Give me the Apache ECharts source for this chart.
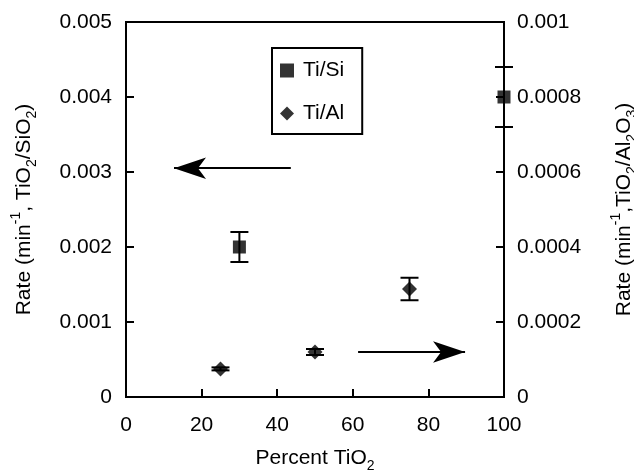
<!DOCTYPE html>
<html>
<head>
<meta charset="utf-8">
<script src="https://cdn.jsdelivr.net/npm/echarts@6/dist/echarts.min.js"></script>
<style>
  html, body { margin: 0; padding: 0; background: #fff; }
  #chart { width: 634px; height: 470px; }
</style>
</head>
<body>
<div id="chart"></div>
<script>
// Ti/Si samples (left axis, min^-1 per TiO2/SiO2)
const siPercent = [30, 100];
const siRate = [0.002, 0.004];
const siErr = [0.0002, 0.0004];

// Ti/Al samples (right axis, min^-1 per TiO2/Al2O3)
const alPercent = [25, 50, 75];
const alRate = [0.000075, 0.00012, 0.000288];
const alErr = [0.000004, 0.000008, 0.00003];

// Tick labels
const xTicks = ['0', '20', '40', '60', '80', '100'];
const leftTicks = ['0', '0.001', '0.002', '0.003', '0.004', '0.005'];
const rightTicks = ['0', '0.0002', '0.0004', '0.0006', '0.0008', '0.001'];

const FONT = 'Liberation Sans, Arial, sans-serif';
const INK = '#000';

function errorBarSeries(name, xs, ys, errs, yAxisIndex) {
  return {
    name: name + ' error',
    type: 'custom',
    yAxisIndex: yAxisIndex,
    silent: true,
    z: 3,
    data: xs.map((x, i) => [x, ys[i] - errs[i], ys[i] + errs[i]]),
    renderItem: function (params, api) {
      const lo = api.coord([api.value(0), api.value(1)]);
      const hi = api.coord([api.value(0), api.value(2)]);
      const half = 9;
      const style = { stroke: INK, lineWidth: 2 };
      return {
        type: 'group',
        children: [
          { type: 'line', shape: { x1: lo[0], y1: lo[1], x2: hi[0], y2: hi[1] }, style: style },
          { type: 'line', shape: { x1: lo[0] - half, y1: lo[1], x2: lo[0] + half, y2: lo[1] }, style: style },
          { type: 'line', shape: { x1: hi[0] - half, y1: hi[1], x2: hi[0] + half, y2: hi[1] }, style: style }
        ]
      };
    }
  };
}

const chart = echarts.init(document.getElementById('chart'), null, { renderer: 'canvas' });

const nameRich = {
  n: { fontFamily: FONT, fontSize: 21, color: INK, lineHeight: 30, verticalAlign: 'middle' },
  sup: { fontFamily: FONT, fontSize: 14, color: INK, verticalAlign: 'top', padding: [0, 0, 8, 0] },
  sub: { fontFamily: FONT, fontSize: 14, color: INK, verticalAlign: 'bottom', padding: [10, 0, 0, 0] }
};

chart.setOption({
  animation: false,
  backgroundColor: '#fff',
  grid: {
    left: 126, right: 130, top: 22, bottom: 73,
    containLabel: false,
    outerBoundsMode: 'none',
    show: true, borderColor: INK, borderWidth: 2, backgroundColor: 'transparent'
  },
  legend: {
    orient: 'vertical',
    left: 272, top: 48,
    padding: [12, 18, 10, 8],
    itemGap: 22,
    itemWidth: 14, itemHeight: 14,
    borderColor: INK, borderWidth: 2,
    textStyle: { fontFamily: FONT, fontSize: 21, color: INK, padding: [0, 0, 0, 4] },
    data: [
      { name: 'Ti/Si', icon: 'rect' },
      { name: 'Ti/Al', icon: 'diamond' }
    ]
  },
  xAxis: {
    type: 'value',
    min: 0, max: 100, interval: 20,
    name: '{n|Percent TiO}{sub|2}',
    nameLocation: 'middle',
    nameGap: 46,
    nameTextStyle: { rich: nameRich },
    axisLine: { lineStyle: { color: INK, width: 2 } },
    axisTick: { inside: true, length: 8, lineStyle: { color: INK, width: 2 } },
    axisLabel: {
      margin: 18, fontFamily: FONT, fontSize: 21, color: INK,
      formatter: (v) => xTicks[Math.round(v / 20)]
    },
    splitLine: { show: false }
  },
  yAxis: [
    {
      type: 'value',
      min: 0, max: 0.005, interval: 0.001,
      name: '{n|Rate (min}{sup|-1}{n|, TiO}{sub|2}{n|/SiO}{sub|2}{n|)}',
      nameLocation: 'middle',
      nameRotate: 90,
      nameGap: 87,
      nameTextStyle: { rich: nameRich },
      axisLine: { show: true, lineStyle: { color: INK, width: 2 } },
      axisTick: { inside: true, length: 8, lineStyle: { color: INK, width: 2 } },
      axisLabel: {
        margin: 14, fontFamily: FONT, fontSize: 21, color: INK,
        formatter: (v) => leftTicks[Math.round(v / 0.001)]
      },
      splitLine: { show: false }
    },
    {
      type: 'value',
      position: 'right',
      min: 0, max: 0.001, interval: 0.0002,
      name: '{n|Rate (min}{sup|-1}{n|,TiO}{sub|2}{n|/Al}{sub|2}{n|O}{sub|3}{n|)}',
      nameLocation: 'middle',
      nameRotate: 90,
      nameGap: 105,
      nameTextStyle: { rich: nameRich },
      axisLine: { show: true, lineStyle: { color: INK, width: 2 } },
      axisTick: { inside: true, length: 8, lineStyle: { color: INK, width: 2 } },
      axisLabel: {
        margin: 13, fontFamily: FONT, fontSize: 21, color: INK,
        formatter: (v) => rightTicks[Math.round(v / 0.0002)]
      },
      splitLine: { show: false }
    }
  ],
  series: [
    errorBarSeries('Ti/Si', siPercent, siRate, siErr, 0),
    errorBarSeries('Ti/Al', alPercent, alRate, alErr, 1),
    {
      name: 'Ti/Si',
      type: 'scatter',
      yAxisIndex: 0,
      symbol: 'rect',
      symbolSize: 13,
      itemStyle: { color: INK },
      z: 4,
      data: siPercent.map((x, i) => [x, siRate[i]]),
      markLine: {
        silent: true,
        symbol: ['none', 'arrow'],
        symbolSize: [16, 32],
        label: { show: false },
        lineStyle: { color: INK, width: 2, type: 'solid' },
        data: [
          [{ coord: [43.6, 0.00305] }, { coord: [12.7, 0.00305] }],
          [{ coord: [61.4, 0.0006] }, { coord: [89.7, 0.0006] }]
        ]
      }
    },
    {
      name: 'Ti/Al',
      type: 'scatter',
      yAxisIndex: 1,
      symbol: 'diamond',
      symbolSize: [15, 15],
      itemStyle: { color: INK },
      z: 4,
      data: alPercent.map((x, i) => [x, alRate[i]])
    }
  ]
});
</script>
</body>
</html>
